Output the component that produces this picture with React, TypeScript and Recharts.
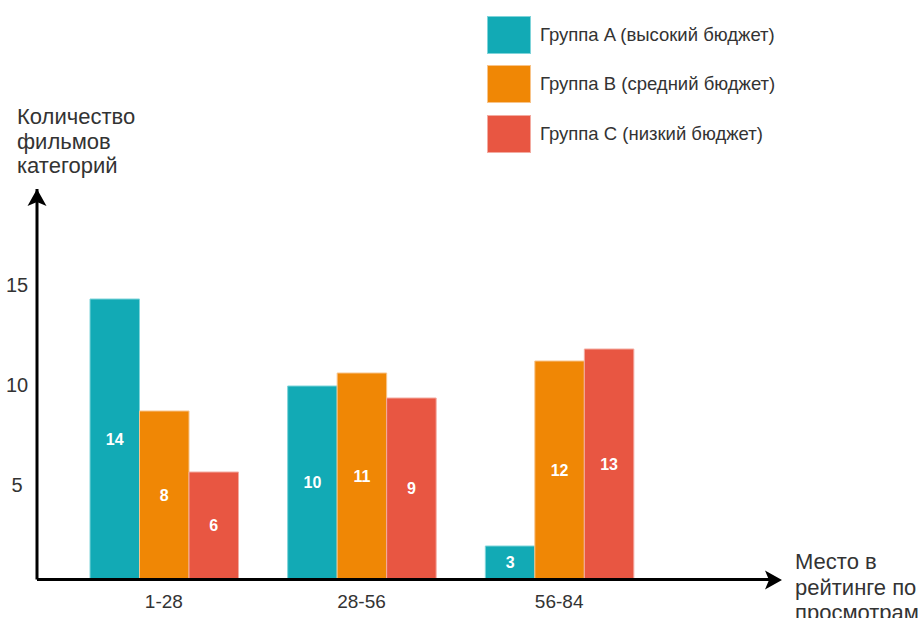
import { BarChart, Bar, XAxis, YAxis, Legend, LabelList } from 'recharts';

// ---------- Data ----------
const categories = ['1-28', '28-56', '56-84'];
// bar heights as drawn in the picture
const groupA = [14.3, 9.95, 1.95];
const groupB = [8.7, 10.6, 11.2];
const groupC = [5.65, 9.35, 11.8];
// numbers written on the bars
const labelsA = [14, 10, 3];
const labelsB = [8, 11, 12];
const labelsC = [6, 9, 13];
const yTicks = [5, 10, 15];
const seriesNames = [
  'Группа A (высокий бюджет)',
  'Группа B (средний бюджет)',
  'Группа C (низкий бюджет)',
];
const yTitle = ['Количество', 'фильмов', 'категорий'];
const xTitle = ['Место в', 'рейтинге по', 'просмотрам'];

const COLORS = ['#12AAB5', '#F08705', '#E85642'];
const BORDERS = ['#7FD4DA', '#F8C48A', '#F3ABA1'];

const data = categories.map((range, i) => ({
  range,
  a: groupA[i],
  b: groupB[i],
  c: groupC[i],
  aLabel: labelsA[i],
  bLabel: labelsB[i],
  cLabel: labelsC[i],
}));

const FONT = '"Liberation Sans", Arial, Helvetica, sans-serif';
const W = 923;
const H = 618;

// ---------- Pieces ----------
function LegendBox({ payload }: any) {
  return (
    <div style={{ fontFamily: FONT }}>
      {(payload || []).map((p: any, i: number) => (
        <div key={i} style={{ display: 'flex', alignItems: 'center', height: 49.5 }}>
          <div
            style={{
              width: 44,
              height: 38,
              boxSizing: 'border-box',
              background: COLORS[i],
              border: `1px solid ${BORDERS[i]}`,
            }}
          />
          <span style={{ marginLeft: 9, fontSize: 18.5, color: '#333' }}>{p.value}</span>
        </div>
      ))}
    </div>
  );
}

const yTick = (p: any) => (
  <text x={17} y={p.y} textAnchor="middle" dominantBaseline="central" fontSize={20} fill="#333" fontFamily={FONT}>
    {p.payload.value}
  </text>
);

const xTick = (p: any) => (
  <text x={p.x} y={601} textAnchor="middle" dominantBaseline="central" fontSize={19} fill="#333" fontFamily={FONT}>
    {p.payload.value}
  </text>
);

const labelStyle = { fill: '#fff', fontSize: 16, fontWeight: 700, fontFamily: FONT };

export default function App() {
  return (
    <div style={{ position: 'fixed', left: 0, top: 0, width: W, height: H, background: '#fff' }}>
      <BarChart
        width={W}
        height={H}
        data={data}
        margin={{ top: 189, right: 153, left: 0, bottom: 0 }}
        barGap={0}
        barSize={49.5}
      >
        <XAxis
          dataKey="range"
          height={38.5}
          padding={{ left: 28, right: 112 }}
          axisLine={{ stroke: '#000', strokeWidth: 3 }}
          tickLine={false}
          tick={xTick}
        />
        <YAxis
          width={37}
          type="number"
          domain={[0.275, 19.8]}
          allowDataOverflow
          ticks={yTicks}
          axisLine={{ stroke: '#000', strokeWidth: 3 }}
          tickLine={false}
          tick={yTick}
        />
        <Legend
          layout="vertical"
          align="center"
          verticalAlign="middle"
          wrapperStyle={{ top: 10, left: 487, width: 340 }}
          content={<LegendBox />}
        />
        <Bar dataKey="a" name={seriesNames[0]} fill={COLORS[0]} stroke={BORDERS[0]} strokeWidth={1} isAnimationActive={false}>
          <LabelList dataKey="aLabel" position="center" style={labelStyle} />
        </Bar>
        <Bar dataKey="b" name={seriesNames[1]} fill={COLORS[1]} stroke={BORDERS[1]} strokeWidth={1} isAnimationActive={false}>
          <LabelList dataKey="bLabel" position="center" style={labelStyle} />
        </Bar>
        <Bar dataKey="c" name={seriesNames[2]} fill={COLORS[2]} stroke={BORDERS[2]} strokeWidth={1} isAnimationActive={false}>
          <LabelList dataKey="cLabel" position="center" style={labelStyle} />
        </Bar>
      </BarChart>

      {/* axis arrows and titles */}
      <svg width={W} height={H} style={{ position: 'absolute', left: 0, top: 0, pointerEvents: 'none' }}>
        <polygon points="37,189 27.5,206 37,202 46.5,206" fill="#000" />
        <polygon points="782,580 765,570.5 769,580 765,589.5" fill="#000" />
        {yTitle.map((t, i) => (
          <text key={t} x={17} y={124 + i * 24.5} fontSize={22} fill="#333" fontFamily={FONT}>
            {t}
          </text>
        ))}
        {xTitle.map((t, i) => (
          <text key={t} x={795} y={569 + i * 25.5} fontSize={22} fill="#333" fontFamily={FONT}>
            {t}
          </text>
        ))}
      </svg>
    </div>
  );
}
